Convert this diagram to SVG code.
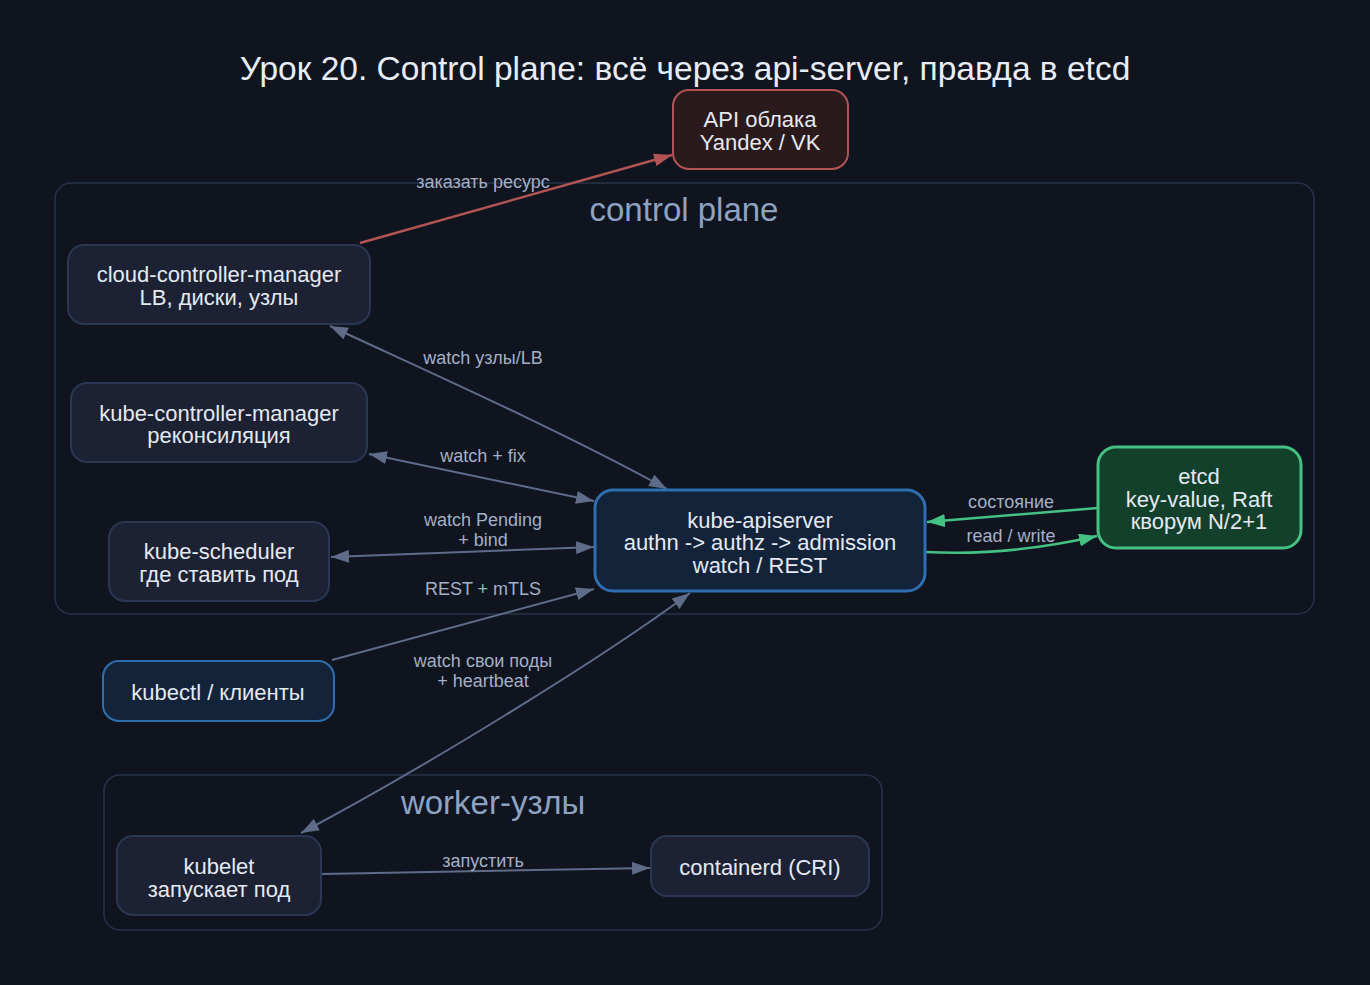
<svg xmlns="http://www.w3.org/2000/svg" width="1370" height="985" viewBox="0 0 1370 985">
<style>
text{font-family:"Liberation Sans",Arial,sans-serif;text-anchor:middle}
.t{font-size:22px;fill:#e4e9f2}
.title{font-size:33.5px;fill:#e8ecf4}
.cl{font-size:33px;fill:#8ea2c2}
.el{font-size:18px;fill:#a3b0c6}
.cluster{fill:#10141f;stroke:#283248;stroke-width:1.5}
.n{fill:#1c2233;stroke:#2b3652;stroke-width:2}
.blue{fill:#13233a;stroke:#2f6fb0;stroke-width:3}
.e{fill:none;stroke:#5e6b89;stroke-width:2}
.red{fill:none;stroke:#b25454;stroke-width:2.5}
.grn{fill:none;stroke:#45c083;stroke-width:2.5}
</style>
<defs>
<marker id="ag" viewBox="0 0 18 13" refX="18" refY="6.5" markerWidth="18" markerHeight="13" markerUnits="userSpaceOnUse" orient="auto-start-reverse"><path d="M0,0L18,6.5L0,13z" fill="#5e6b89"/></marker>
<marker id="ar" viewBox="0 0 18 13" refX="18" refY="6.5" markerWidth="18" markerHeight="13" markerUnits="userSpaceOnUse" orient="auto"><path d="M0,0L18,6.5L0,13z" fill="#b25454"/></marker>
<marker id="agr" viewBox="0 0 18 13" refX="18" refY="6.5" markerWidth="18" markerHeight="13" markerUnits="userSpaceOnUse" orient="auto"><path d="M0,0L18,6.5L0,13z" fill="#45c083"/></marker>
</defs>
<rect width="1370" height="985" fill="#10141f"/>
<text class="title" x="685" y="80">Урок 20. Control plane: всё через api-server, правда в etcd</text>

<g id="cluster-control-plane">
<rect class="cluster" x="55" y="183" width="1259" height="431" rx="16"/>
<text class="cl" x="684" y="221">control plane</text>
</g>
<g id="cluster-workers">
<rect class="cluster" x="104" y="775" width="778" height="155" rx="16"/>
<text class="cl" x="493" y="814">worker-узлы</text>
</g>

<g id="connectors">
<path class="red" d="M360,243 L672,155" marker-end="url(#ar)"/>
<text class="el" x="483" y="188">заказать ресурс</text>

<path class="e" d="M330,326 C420,368 560,430 667,489" marker-start="url(#ag)" marker-end="url(#ag)"/>
<text class="el" x="483" y="364">watch узлы/LB</text>

<path class="e" d="M369,454 L594,501" marker-start="url(#ag)" marker-end="url(#ag)"/>
<text class="el" x="483" y="462">watch + fix</text>

<path class="e" d="M331,557 L594,547" marker-start="url(#ag)" marker-end="url(#ag)"/>
<text class="el" x="483" y="526">watch Pending</text>
<text class="el" x="483" y="546">+ bind</text>

<path class="e" d="M332,660 L594,589" marker-end="url(#ag)"/>
<text class="el" x="483" y="595">REST + mTLS</text>

<path class="e" d="M690,593 C600,660 420,770 301,833" marker-start="url(#ag)" marker-end="url(#ag)"/>
<text class="el" x="483" y="667">watch свои поды</text>
<text class="el" x="483" y="687">+ heartbeat</text>

<path class="grn" d="M1098,508 L927,522" marker-end="url(#agr)"/>
<text class="el" x="1011" y="508">состояние</text>
<path class="grn" d="M926,552 C980,555 1040,549 1097,536" marker-end="url(#agr)"/>
<text class="el" x="1011" y="542">read / write</text>

<path class="e" d="M322,874 L650,868" marker-end="url(#ag)"/>
<text class="el" x="483" y="867">запустить</text>
</g>

<g id="api-cloud">
<rect x="673" y="90" width="175" height="79" rx="16" fill="#2a1a1c" stroke="#b25454" stroke-width="2"/>
<text class="t" x="760" y="127">API облака</text>
<text class="t" x="760" y="150">Yandex / VK</text>
</g>
<g id="cloud-controller-manager">
<rect class="n" x="68" y="245" width="302" height="79" rx="16"/>
<text class="t" x="219" y="282">cloud-controller-manager</text>
<text class="t" x="219" y="305">LB, диски, узлы</text>
</g>
<g id="kube-controller-manager">
<rect class="n" x="71" y="383" width="296" height="79" rx="16"/>
<text class="t" x="219" y="421">kube-controller-manager</text>
<text class="t" x="219" y="443">реконсиляция</text>
</g>
<g id="kube-scheduler">
<rect class="n" x="109" y="522" width="220" height="79" rx="16"/>
<text class="t" x="219" y="559">kube-scheduler</text>
<text class="t" x="219" y="582">где ставить под</text>
</g>
<g id="kube-apiserver">
<rect class="blue" x="595" y="490" width="330" height="101" rx="18"/>
<text class="t" x="760" y="528">kube-apiserver</text>
<text class="t" x="760" y="550">authn -&gt; authz -&gt; admission</text>
<text class="t" x="760" y="573">watch / REST</text>
</g>
<g id="etcd">
<rect x="1098" y="447" width="203" height="101" rx="18" fill="#13402a" stroke="#45c083" stroke-width="3"/>
<text class="t" x="1199" y="484">etcd</text>
<text class="t" x="1199" y="507">key-value, Raft</text>
<text class="t" x="1199" y="529">кворум N/2+1</text>
</g>
<g id="kubectl">
<rect x="103" y="661" width="231" height="60" rx="16" fill="#13233a" stroke="#2f6fb0" stroke-width="2"/>
<text class="t" x="218" y="700">kubectl / клиенты</text>
</g>
<g id="kubelet">
<rect class="n" x="117" y="836" width="204" height="79" rx="16"/>
<text class="t" x="219" y="874">kubelet</text>
<text class="t" x="219" y="897">запускает под</text>
</g>
<g id="containerd">
<rect class="n" x="651" y="836" width="218" height="60" rx="16"/>
<text class="t" x="760" y="875">containerd (CRI)</text>
</g>
</svg>
